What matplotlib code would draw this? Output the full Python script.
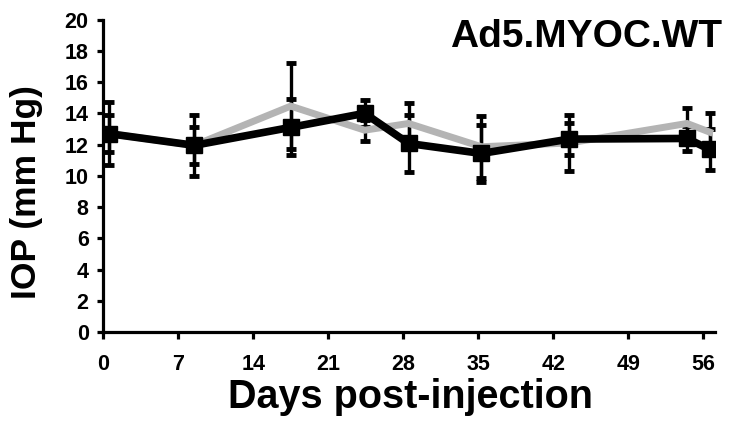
import matplotlib
matplotlib.use('Agg')
import matplotlib.pyplot as plt

plt.rcParams['font.family'] = ['Liberation Sans', 'DejaVu Sans']
plt.rcParams['font.weight'] = 'bold'

# days post-injection (sampling points)
days = [0.5, 8.5, 17.5, 24.4, 28.5, 35.3, 43.5, 54.5, 56.6]
# black series (mean IOP and error)
iop_black = [12.7, 11.95, 13.1, 14.0, 12.07, 11.43, 12.35, 12.39, 11.69]
err_black = [2.0, 1.95, 1.8, 0.85, 1.8, 1.81, 1.05, 0.8, 1.33]
# grey series
iop_grey = [12.7, 11.95, 14.46, 12.92, 13.35, 11.86, 12.1, 13.35, 12.8]
err_grey = [1.2, 1.2, 2.77, 0.68, 1.28, 1.98, 1.8, 1.0, 1.2]

xticks = [0, 7, 14, 21, 28, 35, 42, 49, 56]
yticks = list(range(0, 21, 2))

fig = plt.figure(figsize=(7.31, 4.26), dpi=100)
ax = fig.add_axes([0.1413, 0.2207, 0.8367, 0.7333])

# error bars, both drawn in black
ax.errorbar(days, iop_grey, yerr=err_grey, fmt='none', ecolor='black',
            elinewidth=2.4, capsize=3.5, capthick=3.5, zorder=2)
ax.errorbar(days, iop_black, yerr=err_black, fmt='none', ecolor='black',
            elinewidth=2.4, capsize=3.5, capthick=3.5, zorder=2)

ax.plot(days, iop_grey, color='#b4b4b4', lw=5, zorder=3,
        solid_joinstyle='miter')
ax.plot(days, iop_black, color='black', lw=5.5, marker='s', markersize=11.5,
        zorder=4, solid_joinstyle='miter')

ax.set_xlim(0, 57.1)
ax.set_ylim(0, 20)
ax.set_xticks(xticks)
ax.set_yticks(yticks)

for side in ['top', 'right']:
    ax.spines[side].set_visible(False)
for side in ['left', 'bottom']:
    ax.spines[side].set_linewidth(2.3)

ax.tick_params(axis='y', direction='out', length=4.5, width=2.3,
               labelsize=15.5, pad=6)
ax.tick_params(axis='x', direction='out', length=5, width=2.3,
               labelsize=15.5, pad=11)
for lab in ax.get_xticklabels() + ax.get_yticklabels():
    lab.set_fontweight('bold')

fig.text(27 / 731, 1 - 192 / 426, 'IOP (mm Hg)', rotation=90,
         ha='center', va='center', fontsize=25.5, fontweight='bold')
fig.text(411 / 731, 1 - 408 / 426, 'Days post-injection',
         ha='center', va='baseline', fontsize=28.5, fontweight='bold')
fig.text(722 / 731, 1 - 47 / 426, 'Ad5.MYOC.WT',
         ha='right', va='baseline', fontsize=28, fontweight='bold')

fig.savefig('out.png', dpi=100)
